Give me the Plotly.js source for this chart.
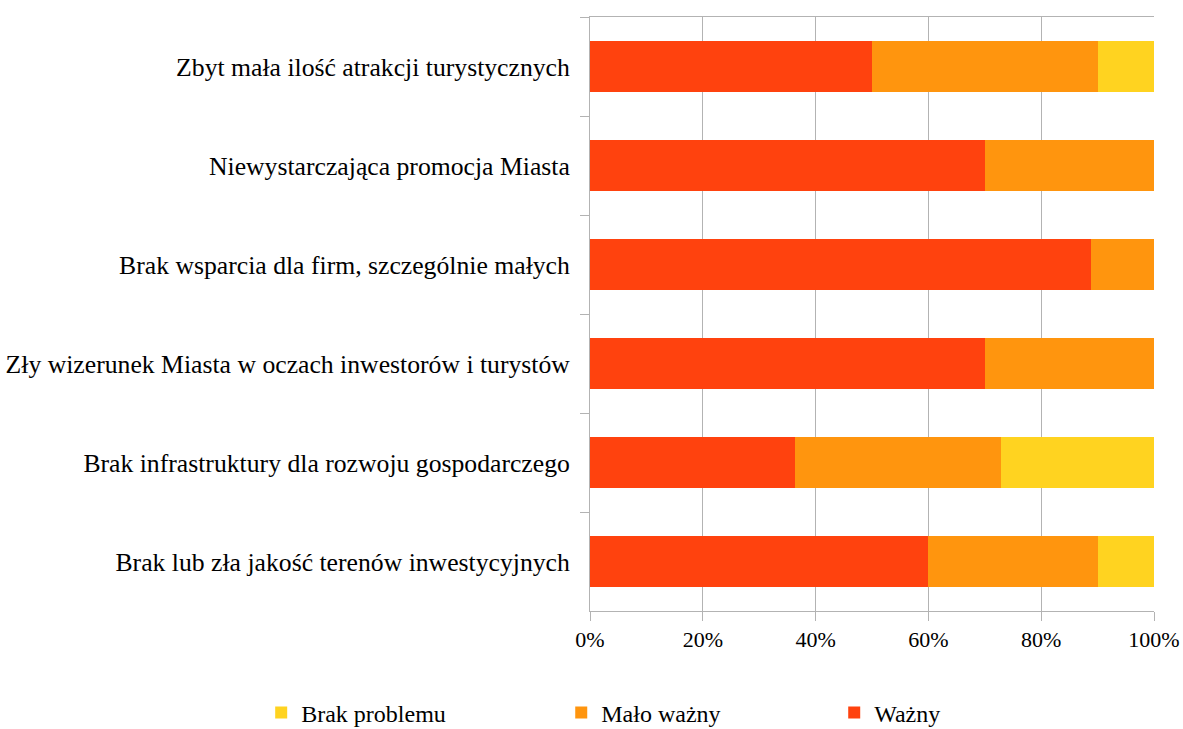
<!DOCTYPE html>
<html>
<head>
<meta charset="utf-8">
<script src="https://cdn.plot.ly/plotly-3.0.1.min.js"></script>
<style>html,body{margin:0;padding:0;background:#fff;}#chart{width:1183px;height:729px;}</style>
</head>
<body>
<div id="chart"></div>
<script>
const categories = [
  "Zbyt mała ilość atrakcji turystycznych",
  "Niewystarczająca promocja Miasta",
  "Brak wsparcia dla firm, szczególnie małych",
  "Zły wizerunek Miasta w oczach inwestorów i turystów",
  "Brak infrastruktury dla rozwoju gospodarczego",
  "Brak lub zła jakość terenów inwestycyjnych"
];
const wazny      = [50, 70, 88.9, 70, 36.4, 60];
const maloWazny  = [40, 30, 11.1, 30, 36.4, 30];
const brakProbl  = [10, 0, 0, 0, 27.2, 10];
const tickVals = [0, 0.2, 0.4, 0.6, 0.8, 1.0];
const tickText = ["0%", "20%", "40%", "60%", "80%", "100%"];

const fam = "Liberation Serif, Times New Roman, serif";
const font = {family: fam, size: 22, color: "#000"};
const yFont = {family: fam, size: 25.7, color: "#000"};
const legFont = {family: fam, size: 24, color: "#000"};
function frac(arr){ return arr.map(v => v/100); }

const traces = [
  {type:"bar", orientation:"h", name:"Ważny", y:categories, x:frac(wazny), marker:{color:"#ff420e"}, legend:"legend3", hoverinfo:"skip"},
  {type:"bar", orientation:"h", name:"Mało ważny", y:categories, x:frac(maloWazny), marker:{color:"#ff950e"}, legend:"legend2", hoverinfo:"skip"},
  {type:"bar", orientation:"h", name:"Brak problemu", y:categories, x:frac(brakProbl), marker:{color:"#ffd320"}, legend:"legend", hoverinfo:"skip"}
];

const legBase = {orientation:"h", yanchor:"middle", y:-0.1717, xanchor:"left", font:legFont, bgcolor:"rgba(0,0,0,0)", itemclick:false};
const layout = {
  width:1183, height:729,
  margin:{l:590, r:29, t:17, b:118, autoexpand:false},
  paper_bgcolor:"#fff", plot_bgcolor:"#fff",
  barmode:"stack", bargap:0.49,
  font:font,
  showlegend:true,
  legend:  Object.assign({}, legBase, {x:-0.583}),
  legend2: Object.assign({}, legBase, {x:-0.051}),
  legend3: Object.assign({}, legBase, {x:0.433}),
  xaxis:{range:[0,1], tickvals:tickVals, ticktext:tickText, showgrid:true, gridcolor:"#b3b3b3", gridwidth:1,
         showline:true, linecolor:"#b3b3b3", mirror:true, ticks:"outside", ticklen:9, tickcolor:"#b3b3b3",
         zeroline:false, tickfont:font, fixedrange:true, automargin:false},
  yaxis:{type:"category", autorange:"reversed", showgrid:false, showline:true, linecolor:"#b3b3b3",
         ticks:"outside", tickson:"boundaries", ticklen:9, tickcolor:"#b3b3b3", tickfont:yFont,
         ticklabelstandoff:14, fixedrange:true, automargin:false}
};
Plotly.newPlot("chart", traces, layout, {displayModeBar:false, staticPlot:true});
</script>
</body>
</html>
